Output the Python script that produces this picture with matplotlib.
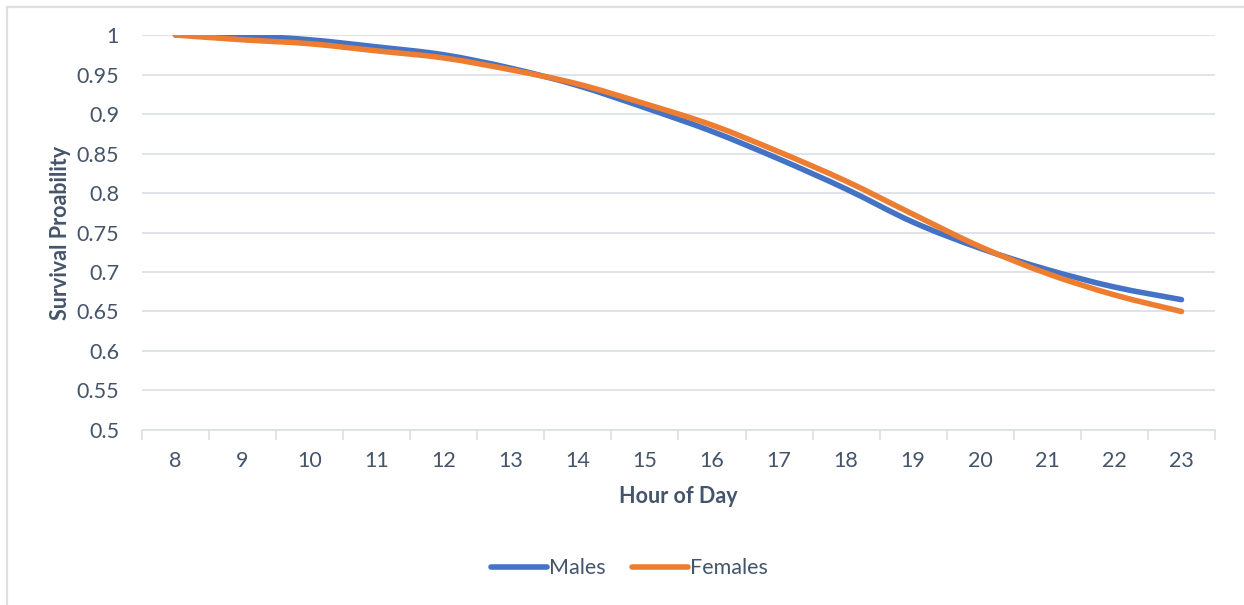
import numpy as np
import matplotlib.pyplot as plt
from matplotlib.path import Path
from matplotlib.patches import PathPatch
from matplotlib.lines import Line2D

# Survival probability by hour of day
hours = [8, 9, 10, 11, 12, 13, 14, 15, 16, 17, 18, 19, 20, 21, 22, 23]
males = [1.000, 0.999, 0.994, 0.985, 0.975, 0.958, 0.936, 0.908, 0.878, 0.843,
         0.805, 0.763, 0.730, 0.703, 0.681, 0.665]
females = [1.000, 0.994, 0.989, 0.980, 0.971, 0.956, 0.938, 0.913, 0.886, 0.852,
           0.815, 0.773, 0.732, 0.698, 0.671, 0.650]

BLUE = '#4472C4'
ORANGE = '#ED7D31'
TEXT = '#44546A'
GRID = '#DDE1E7'
FS = 15.5

plt.rcParams['font.family'] = ['Lato', 'DejaVu Sans']


def smooth_path(x, y):
    # Catmull-Rom segments turned into cubic Bezier pieces (Excel-style smoothed line)
    x = np.asarray(x, float)
    y = np.asarray(y, float)
    px = np.concatenate([[x[0]], x, [x[-1]]])
    py = np.concatenate([[y[0]], y, [y[-1]]])
    verts = [(x[0], y[0])]
    codes = [Path.MOVETO]
    for i in range(1, len(px) - 2):
        c1 = (px[i] + (px[i + 1] - px[i - 1]) / 6, py[i] + (py[i + 1] - py[i - 1]) / 6)
        c2 = (px[i + 1] - (px[i + 2] - px[i]) / 6, py[i + 1] - (py[i + 2] - py[i]) / 6)
        verts += [c1, c2, (px[i + 1], py[i + 1])]
        codes += [Path.CURVE4] * 3
    return Path(verts, codes)


fig = plt.figure(figsize=(12.44, 6.05), dpi=100)
ax = fig.add_axes([0.1141, 0.2893, 0.8626, 0.6528])

for series, color in [(males, BLUE), (females, ORANGE)]:
    ax.add_patch(PathPatch(smooth_path(hours, series), facecolor='none', edgecolor=color,
                           linewidth=4.0, capstyle='round', joinstyle='round', zorder=3))

ax.set_xlim(7.5, 23.5)
ax.set_ylim(0.5, 1.0)
ax.set_yticks(np.arange(0.5, 1.001, 0.05))
ax.set_yticklabels(['0.5', '0.55', '0.6', '0.65', '0.7', '0.75', '0.8', '0.85', '0.9', '0.95', '1'])
ax.set_xticks(hours)
ax.set_xticks(np.arange(7.5, 23.6, 1), minor=True)

ax.grid(axis='y', color=GRID, linewidth=1.3)
ax.set_axisbelow(True)
for s in ['top', 'right', 'left']:
    ax.spines[s].set_visible(False)
ax.spines['bottom'].set_color(GRID)
ax.spines['bottom'].set_linewidth(1.3)

ax.tick_params(axis='y', length=0, pad=16.5, labelsize=FS, labelcolor=TEXT)
ax.tick_params(axis='x', which='major', length=0, pad=15, labelsize=FS, labelcolor=TEXT)
ax.tick_params(axis='x', which='minor', length=7, width=1.3, color=GRID)

ax.set_xlabel('Hour of Day', fontsize=FS, fontweight='bold', color=TEXT, labelpad=11)
ax.set_ylabel('Survival Proability', fontsize=FS, fontweight='bold', color=TEXT)
ax.yaxis.set_label_coords(-0.066, 0.5)

handles = [Line2D([], [], color=BLUE, linewidth=4.0, solid_capstyle='round'),
           Line2D([], [], color=ORANGE, linewidth=4.0, solid_capstyle='round')]
fig.legend(handles, ['Males', 'Females'], loc='center', bbox_to_anchor=(0.506, 0.061),
           ncol=2, frameon=False, fontsize=FS, labelcolor=TEXT, handlelength=2.6,
           handletextpad=0.1, columnspacing=1.2)

# chart area frame
fig.add_artist(Line2D([7 / 1244, 1.0], [1 - 6.5 / 605, 1 - 6.5 / 605], color=GRID, linewidth=1.6))
fig.add_artist(Line2D([7 / 1244, 7 / 1244], [0.0, 1 - 6.5 / 605], color=GRID, linewidth=1.6))

fig.savefig('out.png', dpi=100)
